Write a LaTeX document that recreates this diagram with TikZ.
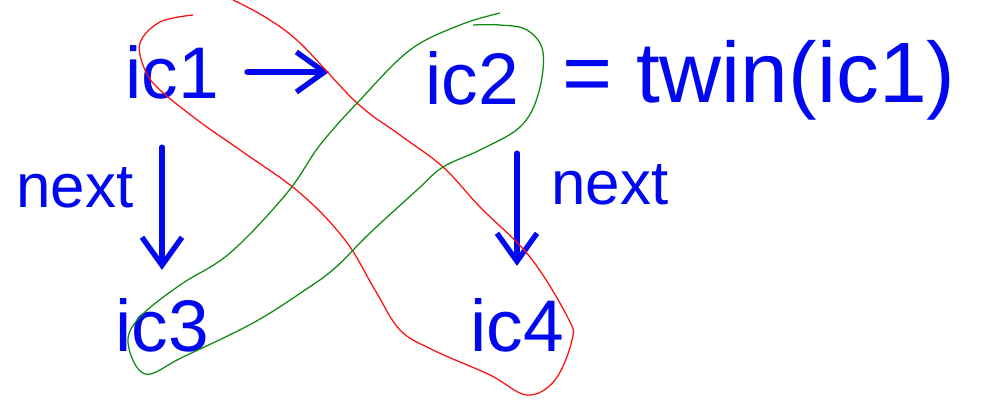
\documentclass[tikz,border=0pt]{standalone}
\usepackage{fontspec}
\setmainfont{Liberation Sans}
\usetikzlibrary{arrows.meta}
\usepackage{xcolor}
\definecolor{Ink}{HTML}{0008F0}
\definecolor{RingRed}{HTML}{FF1010}
\definecolor{RingGreen}{HTML}{108A10}

\begin{document}
\begin{tikzpicture}[x=0.025cm,y=-0.025cm,
    lbl/.style={text=Ink,inner sep=0pt,font=\fontsize{52}{52}\selectfont},
    nxt/.style={text=Ink,inner sep=0pt,font=\fontsize{44}{44}\selectfont},
    arr/.style={draw=Ink,line width=3.8pt,line cap=round,
      -{Straight Barb[length=7mm,width=10mm,line width=3.8pt]}},
    redring/.style={draw=RingRed,line width=0.9pt},
    greenring/.style={draw=RingGreen,line width=0.9pt}]
    \useasboundingbox (0,0) rectangle (981,402);
    % the four items
    \node[lbl] (ic1) at (172,72) {ic1};
    \node[lbl] (ic2) at (472,78) {ic2};
    \node[lbl,anchor=west,font=\fontsize{61}{61}\selectfont] (twin) at (562,80) {= twin(ic1)};
    \node[lbl] (ic3) at (162,325) {ic3};
    \node[lbl] (ic4) at (517,325) {ic4};
    \node[nxt] (nextL) at (75,188) {next};
    \node[nxt] (nextR) at (610,185) {next};
    % arrows
    \draw[arr,shorten <=0.7cm,shorten >=2.4cm] (ic1.east) -- (ic2.west |- ic1.east);
    \draw[arr,shorten <=1.2cm,shorten >=0.7cm] (ic1.south -| ic3) -- (ic3.north);
    \draw[arr,shorten <=1.2cm,shorten >=0.8cm] (ic2.south -| ic4) -- (ic4.north);
    % rings
    \draw[redring] plot[smooth,tension=0.6] coordinates {(193,15) (160,22) (140,43)
      (145,70) (160,90) (200,122) (240,150) (300,193) (345,240) (375,290) (400,330)
      (433,350) (490,375) (527,395) (555,380) (572,340) (568,318) (530,257)
      (480,207) (443,167) (400,135) (357,103) (300,43) (265,17) (233,0)};
    \draw[greenring] plot[smooth,tension=0.6] coordinates {(500,13) (460,25)
      (410,50) (360,100) (320,145) (287,193) (230,253) (180,285) (140,317)
      (128,343) (145,374) (183,357) (253,323) (305,290) (335,268)
      (370,233) (417,190) (443,167) (480,150) (520,127) (538,95) (543,52)
      (527,30) (500,25) (473,25)};
\end{tikzpicture}
\end{document}
